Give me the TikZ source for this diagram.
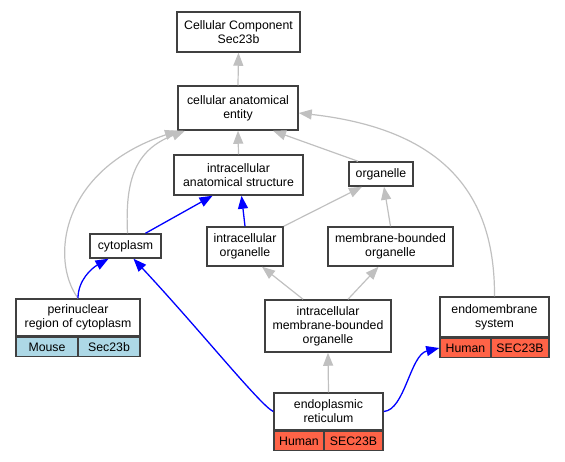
\documentclass[tikz,border=0pt]{standalone}
\usepackage{fontspec}
\setmainfont{Liberation Sans}
\usetikzlibrary{arrows.meta}
\definecolor{edgegray}{HTML}{C0C0C0}
\definecolor{mouseblue}{HTML}{ADD8E6}
\definecolor{humanred}{HTML}{FF6347}
\definecolor{boxline}{HTML}{404040}
\begin{document}
\begin{tikzpicture}[x=1pt,y=-1pt,
  box/.style={draw=boxline, line width=1.5pt, fill=white, inner sep=0pt, align=center,
    font=\fontsize{12.3}{14}\selectfont},
  cell/.style={box, minimum height=19pt},
  tip/.style={-{Triangle[length=13pt,width=10pt]}},
  gedge/.style={draw=edgegray, line width=1.2pt, tip},
  bedge/.style={draw=blue, line width=1.3pt, tip}
]
\useasboundingbox (0,0) rectangle (565,461);

% nodes
\node[box, minimum width=123pt, minimum height=40pt] (cc) at (238.5,32) {Cellular Component\\Sec23b};
\node[box, minimum width=120pt, minimum height=44pt] (cae) at (238,108) {cellular anatomical\\entity};
\node[box, minimum width=129pt, minimum height=40pt] (ias) at (238.5,175) {intracellular\\anatomical structure};
\node[box, minimum width=64pt, minimum height=24pt] (org) at (381,174) {organelle};
\node[box, minimum width=71pt, minimum height=24pt] (cyt) at (125.5,246) {cytoplasm};
\node[box, minimum width=76pt, minimum height=39pt] (io) at (245,246.5) {intracellular\\organelle};
\node[box, minimum width=125pt, minimum height=39pt] (mbo) at (390.5,246.5) {membrane-bounded\\organelle};
\node[box, minimum width=126pt, minimum height=52pt] (imbo) at (328,326) {intracellular\\membrane-bounded\\organelle};

\node[box, minimum width=124pt, minimum height=37pt] (peri) at (78,317.5) {perinuclear\\region of cytoplasm};
\node[cell, fill=mouseblue, minimum width=62pt, anchor=north west] (perim) at (peri.south west) {Mouse};
\node[cell, fill=mouseblue, minimum width=62pt, anchor=north east] (peris) at (peri.south east) {Sec23b};

\node[box, minimum width=109pt, minimum height=40pt] (endo) at (494.5,317) {endomembrane\\system};
\node[cell, fill=humanred, minimum width=51pt, anchor=north west] (endoh) at (endo.south west) {Human};
\node[cell, fill=humanred, minimum width=58pt, anchor=north east] (endos) at (endo.south east) {SEC23B};

\node[box, minimum width=109pt, minimum height=37pt] (er) at (328.5,411.5) {endoplasmic\\reticulum};
\node[cell, fill=humanred, minimum width=50pt, anchor=north west] (erh) at (er.south west) {Human};
\node[cell, fill=humanred, minimum width=59pt, anchor=north east] (ers) at (er.south east) {SEC23B};

% gray edges
\draw[gedge] (cae.north) -- (cc.south);
\draw[gedge] (ias.north) -- (cae.south);
\draw[gedge] ([xshift=-23pt]org.north) -- ([xshift=35pt]cae.south);
\draw[gedge] (endo.north) .. controls (495,200) and (450,130) .. ([yshift=-5pt]cae.east);
\draw[gedge] ([xshift=2pt]cyt.north) .. controls (125,180) and (135,150) .. ([xshift=-53pt]cae.south);
\draw[gedge] (peri.north) .. controls (50,260) and (60,170) .. ([xshift=-60pt]cae.south);
\draw[gedge] (io.north east) -- ([xshift=-19pt]org.south);
\draw[gedge] (mbo.north) -- ([xshift=3pt]org.south);
\draw[gedge] ([xshift=-25pt]imbo.north) -- ([xshift=17pt]io.south);
\draw[gedge] ([xshift=20pt]imbo.north) -- ([xshift=-12pt]mbo.south);
\draw[gedge] (er.north) -- (imbo.south);

% blue edges
\draw[bedge] ([xshift=20pt]cyt.north) -- ([xshift=-26pt]ias.south);
\draw[bedge] (io.north) -- ([xshift=3pt]ias.south);
\draw[bedge] (peri.north) .. controls (78,280) and (92,268) .. ([xshift=-17pt]cyt.south);
\draw[bedge] (er.west) .. controls (260,405) and (200,330) .. ([xshift=8pt]cyt.south);
\draw[bedge] (er.east) .. controls (405,410) and (410,355) .. (endoh.west);
\end{tikzpicture}
\end{document}
